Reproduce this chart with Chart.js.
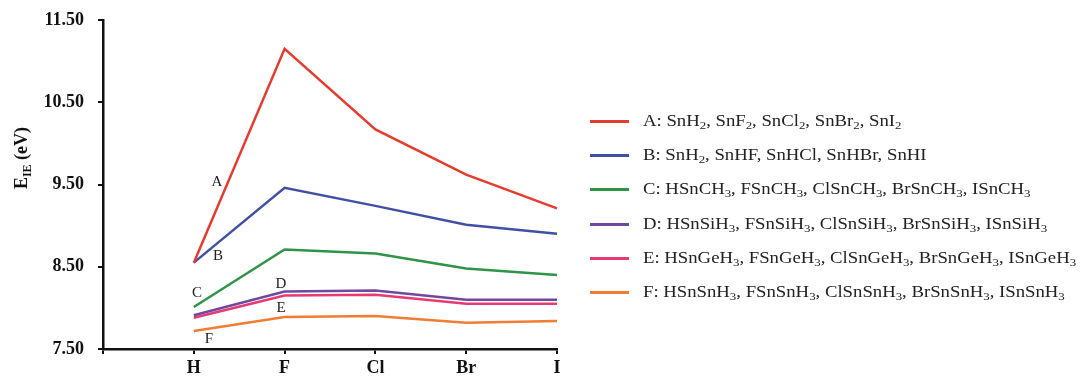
<!DOCTYPE html>
<html>
<head>
<meta charset="utf-8">
<script src="https://cdn.jsdelivr.net/npm/chart.js@4.4.1/dist/chart.umd.min.js"></script>
<style>
  body { margin: 0; background: #fff; }
  #wrap { position: relative; width: 1081px; height: 379px; overflow: hidden; }
  #legend { position: absolute; left: 590px; top: 0; font-family: 'Liberation Serif', 'Times New Roman', serif; font-size: 16px; color: #222; white-space: nowrap; }
  .row { position: absolute; left: 0; height: 20px; line-height: 20px; }
  .row .swatch { position: absolute; left: 0; top: 9px; width: 39px; height: 3px; }
  .row span.txt { position: absolute; left: 53px; top: 0; transform: scaleX(1.17); transform-origin: left center; }
  sub { font-size: 11px; vertical-align: -3px; line-height: 0; }
</style>
</head>
<body>
<div id="wrap">
  <canvas id="chart" width="1081" height="379"></canvas>
  <div id="legend"></div>
</div>
<script>
// halogen substituent on Sn
const categories = ['H', 'F', 'Cl', 'Br', 'I'];

// ionization energies (eV)
const seriesA = [8.55, 11.15, 10.17, 9.62, 9.21];
const seriesB = [8.55, 9.46, 9.24, 9.01, 8.90];
const seriesC = [8.01, 8.71, 8.66, 8.48, 8.40];
const seriesD = [7.91, 8.20, 8.21, 8.10, 8.10];
const seriesE = [7.88, 8.15, 8.16, 8.05, 8.05];
const seriesF = [7.72, 7.89, 7.90, 7.82, 7.84];

const yTicks = [7.5, 8.5, 9.5, 10.5, 11.5];

const seriesNames = ['A', 'B', 'C', 'D', 'E', 'F'];
const seriesColors = ['#e63b2e', '#4050a6', '#2f9447', '#70499e', '#e63a72', '#ef7d34'];
// legend text, [text, isSub] pieces
const legendText = [
    [['A: SnH'], ['2', 1], [', SnF'], ['2', 1], [', SnCl'], ['2', 1], [', SnBr'], ['2', 1], [', SnI'], ['2', 1]],
    [['B: SnH'], ['2', 1], [', SnHF, SnHCl, SnHBr, SnHI']],
    [['C: HSnCH'], ['3', 1], [', FSnCH'], ['3', 1], [', ClSnCH'], ['3', 1], [', BrSnCH'], ['3', 1], [', ISnCH'], ['3', 1]],
    [['D: HSnSiH'], ['3', 1], [', FSnSiH'], ['3', 1], [', ClSnSiH'], ['3', 1], [', BrSnSiH'], ['3', 1], [', ISnSiH'], ['3', 1]],
    [['E: HSnGeH'], ['3', 1], [', FSnGeH'], ['3', 1], [', ClSnGeH'], ['3', 1], [', BrSnGeH'], ['3', 1], [', ISnGeH'], ['3', 1]],
    [['F: HSnSnH'], ['3', 1], [', FSnSnH'], ['3', 1], [', ClSnSnH'], ['3', 1], [', BrSnSnH'], ['3', 1], [', ISnSnH'], ['3', 1]]
];

// letter labels next to the curves: [category position, value]
const letterPos = [[1.255, 9.53], [1.266, 8.63], [1.035, 8.18], [1.96, 8.29], [1.96, 8.0], [1.167, 7.62]];

const allSeries = [seriesA, seriesB, seriesC, seriesD, seriesE, seriesF];
const serif = "'Liberation Serif', 'Times New Roman', serif";

// build html legend (needs subscripts)
const legendDiv = document.getElementById('legend');
const rowTops = [111, 145, 179, 214, 248, 282];
legendText.forEach((parts, i) => {
    const row = document.createElement('div');
    row.className = 'row';
    row.style.top = rowTops[i] + 'px';
    const html = parts.map(p => p[1] ? `<sub>${p[0]}</sub>` : p[0]).join('');
    row.innerHTML = `<div class="swatch" style="background:${seriesColors[i]}"></div><span class="txt">${html}</span>`;
    legendDiv.appendChild(row);
});

const extras = {
    id: 'extras',
    afterDraw(chart) {
        const ctx = chart.ctx;
        const xs = chart.scales.x, ys = chart.scales.y;
        ctx.save();
        ctx.fillStyle = '#222';
        ctx.font = '15px ' + serif;
        ctx.textAlign = 'center';
        ctx.textBaseline = 'middle';
        letterPos.forEach((p, i) => {
            ctx.fillText(seriesNames[i], xs.getPixelForValue(p[0]), ys.getPixelForValue(p[1]));
        });
        // y axis title E_IE (eV)
        ctx.translate(21, 158);
        ctx.rotate(-Math.PI / 2);
        ctx.textAlign = 'left';
        ctx.textBaseline = 'alphabetic';
        ctx.fillStyle = '#111';
        const big = 'bold 18px ' + serif, small = 'bold 12px ' + serif;
        ctx.font = big;
        const wE = ctx.measureText('E').width;
        ctx.font = small;
        const wIE = ctx.measureText('IE').width;
        ctx.font = big;
        const wRest = ctx.measureText(' (eV)').width;
        let x0 = -(wE + wIE + wRest) / 2;
        const base = 6;
        ctx.fillText('E', x0, base);
        ctx.font = small;
        ctx.fillText('IE', x0 + wE, base + 4);
        ctx.font = big;
        ctx.fillText(' (eV)', x0 + wE + wIE, base);
        ctx.restore();
    }
};

new Chart(document.getElementById('chart'), {
    type: 'line',
    data: {
        labels: [''].concat(categories),
        datasets: allSeries.map((s, i) => ({
            label: seriesNames[i],
            data: [null].concat(s),
            borderColor: seriesColors[i],
            backgroundColor: seriesColors[i],
            borderWidth: 2.5,
            pointRadius: 0,
            tension: 0
        }))
    },
    options: {
        responsive: false,
        animation: false,
        layout: { padding: { top: 20, right: 1081 - 557, left: 0, bottom: 0 } },
        plugins: { legend: { display: false }, tooltip: { enabled: false } },
        scales: {
            x: {
                offset: false,
                afterFit: s => { s.height = 30; s.paddingLeft = 0; s.paddingRight = 0; },
                border: { color: '#111', width: 2.5 },
                grid: { drawOnChartArea: false, color: '#111', lineWidth: 2, tickLength: 5 },
                ticks: { color: '#111', font: { family: serif, size: 18, weight: 'bold' }, padding: 4, maxRotation: 0, autoSkip: false }
            },
            y: {
                min: 7.5,
                max: 11.5,
                afterFit: s => { s.width = 103; s.paddingTop = 0; s.paddingBottom = 0; },
                afterBuildTicks: s => { s.ticks = yTicks.map(v => ({ value: v })); },
                border: { color: '#111', width: 2.5 },
                grid: { drawOnChartArea: false, color: '#111', lineWidth: 2, tickLength: 5 },
                ticks: {
                    color: '#111',
                    font: { family: serif, size: 18, weight: 'bold' },
                    padding: 14,
                    callback: v => Number(v).toFixed(2)
                }
            }
        }
    },
    plugins: [extras]
});
</script>
</body>
</html>
